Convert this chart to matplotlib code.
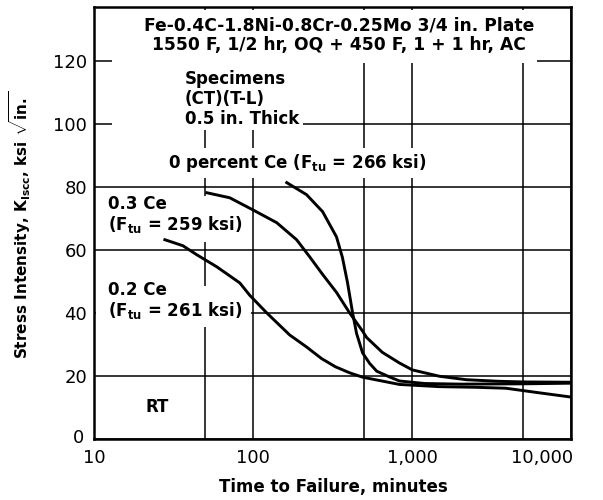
import matplotlib
matplotlib.use("Agg")
import matplotlib.pyplot as plt
import matplotlib.transforms as mtrans
from matplotlib.patches import Rectangle

# ---------------- data ----------------
ce0_x = [163, 217, 274, 335, 365, 393, 423, 448, 489, 541, 600, 721, 834, 1200, 2000, 5000, 10000]
ce0_y = [81.3, 77.5, 72.1, 64.1, 57.6, 49.6, 40.0, 33.5, 27.3, 24.0, 21.5, 19.7, 18.4, 17.6, 17.4, 17.5, 17.7]

ce03_x = [51.2, 71.4, 99.5, 141, 188, 227, 274, 335, 405, 489, 518, 650, 834, 1006, 1487, 2200, 3500, 5000, 10000]
ce03_y = [78.1, 76.5, 72.7, 68.6, 63.2, 57.8, 52.2, 46.5, 40, 34.2, 32.2, 27.5, 24.1, 21.9, 19.9, 18.8, 18.3, 18.1, 18.0]

ce02_x = [27.9, 36.2, 44.4, 59.2, 82.6, 95.3, 122, 170, 217, 270, 330, 405, 489, 834, 1487, 2500, 3900, 6000, 10000]
ce02_y = [63.2, 61.3, 58.4, 54.6, 49.5, 45.6, 40, 33, 29.2, 25.5, 22.9, 21, 19.6, 17.3, 16.6, 16.4, 16.1, 14.8, 13.3]

x_major = [10, 100, 1000, 10000]
x_major_labels = ["10", "100", "1,000", "10,000"]
x_minor = [50, 500, 5000]
y_ticks = [0, 20, 40, 60, 80, 100, 120]
y_tick_labels = ["0", "20", "40", "60", "80", "100", "120"]

title_lines = "Fe-0.4C-1.8Ni-0.8Cr-0.25Mo 3/4 in. Plate\n1550 F, 1/2 hr, OQ + 450 F, 1 + 1 hr, AC"
spec_text = "Specimens\n(CT)(T-L)\n0.5 in. Thick"
lab0 = r"0 percent Ce (F$_{\mathregular{tu}}$ = 266 ksi)"
lab03 = "0.3 Ce\n" + r"(F$_{\mathregular{tu}}$ = 259 ksi)"
lab02 = "0.2 Ce\n" + r"(F$_{\mathregular{tu}}$ = 261 ksi)"

# ---------------- style ----------------
plt.rcParams["font.family"] = ["DejaVu Sans"]
plt.rcParams["mathtext.fontset"] = "custom"
plt.rcParams["mathtext.rm"] = "DejaVu Sans:bold"
plt.rcParams["mathtext.it"] = "DejaVu Sans:bold"
plt.rcParams["mathtext.bf"] = "DejaVu Sans:bold"

W, H = 603, 500
fig = plt.figure(figsize=(W / 100, H / 100), dpi=100)
L, R, T, B = 94, 571, 7, 439
ax = fig.add_axes([L / W, 1 - B / H, (R - L) / W, (B - T) / H])

def fx(px):
    return px / W

def fy(py):
    return 1 - py / H

ax.set_xscale("log")
ax.set_xlim(10, 10000)
ax.set_ylim(0, 137)

ax.set_xticks(x_major)
ax.set_xticklabels(x_major_labels)
ax.set_xticks(x_minor, minor=True)
ax.set_xticklabels([], minor=True)
ax.set_yticks(y_ticks)
ax.set_yticklabels(y_tick_labels)
ax.tick_params(which="both", length=0, labelsize=13)
ax.tick_params(axis="y", pad=5)
ax.tick_params(axis="x", pad=7)
xl = ax.get_xticklabels()
xl[-1].set_horizontalalignment("right")
xl[-1].set_transform(xl[-1].get_transform() + mtrans.ScaledTranslation(0.02, 0, fig.dpi_scale_trans))
yl = ax.get_yticklabels()
yl[0].set_transform(yl[0].get_transform() + mtrans.ScaledTranslation(-0.03, 0.03, fig.dpi_scale_trans))

ax.set_axisbelow(True)
ax.grid(True, which="both", color="black", lw=1.1)
for s in ax.spines.values():
    s.set_linewidth(1.8)

# masks that hide the grid behind labels
masks = [(112, 10, 537, 63), (112, 63, 303, 130), (160, 148, 432, 178),
         (100, 196, 250, 242), (96, 286, 251, 327)]
for x0, y0, x1, y1 in masks:
    ax.add_patch(Rectangle((fx(x0), fy(y1)), fx(x1) - fx(x0), fy(y0) - fy(y1),
                           transform=fig.transFigure, facecolor="white",
                           edgecolor="none", zorder=1))

for xs, ys in [(ce0_x, ce0_y), (ce03_x, ce03_y), (ce02_x, ce02_y)]:
    ax.plot(xs, ys, color="black", lw=2.1, zorder=2, solid_joinstyle="round")

tk = dict(fontsize=12, fontweight="bold", color="black")
fig.text(fx(339), fy(35), title_lines, ha="center", va="center", linespacing=1.1,
         fontsize=12.3, fontweight="bold", color="black")
fig.text(fx(185), fy(99), spec_text, ha="left", va="center", linespacing=1.15, **tk)
fig.text(fx(168), fy(163), lab0, ha="left", va="center", **tk)
fig.text(fx(108), fy(215), lab03, ha="left", va="center", linespacing=1.1, **tk)
fig.text(fx(108), fy(301), lab02, ha="left", va="center", linespacing=1.1, **tk)
fig.text(fx(157), fy(407), "RT", ha="center", va="center", **tk)

fig.text(fx(333), fy(487), "Time to Failure, minutes", ha="center", va="center",
         fontsize=12, fontweight="bold")
fig.text(fx(20), fy(225), r"Stress Intensity, K$_{\mathregular{Iscc}}$, ksi $\sqrt{\mathregular{in.}}$",
         rotation=90, ha="center", va="center", fontsize=11, fontweight="bold")

fig.savefig("out.png", dpi=100)
